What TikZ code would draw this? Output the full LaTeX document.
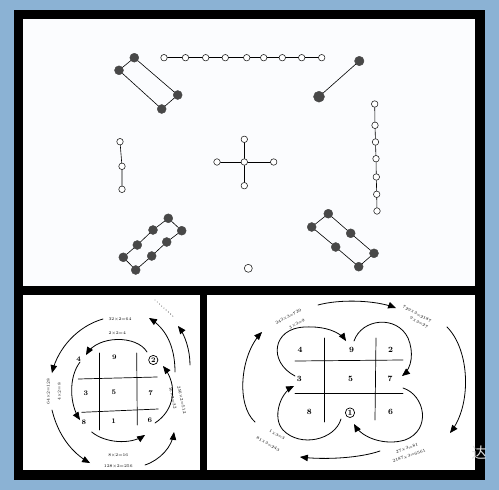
\documentclass[tikz,border=0pt]{standalone}
\usepackage{amssymb,amsmath}
\usepackage{fontspec}
\newfontfamily\cjkfont{Noto Sans CJK SC}
\usetikzlibrary{arrows}
\usetikzlibrary{shapes.geometric}
\definecolor{framebl}{RGB}{139,178,212}
\definecolor{dotgray}{RGB}{72,72,72}
\definecolor{paper}{RGB}{251,252,254}
\tikzset{odot/.style={circle,draw=black!85,fill=white,line width=0.6pt,inner sep=0pt,minimum size=6.5pt},
  fdot/.style={circle,draw=dotgray,fill=dotgray,inner sep=0pt,minimum size=9pt},
  num/.style={font=\bfseries\fontsize{7}{8}\selectfont,inner sep=0pt},
  sumtext/.style={font=\fontsize{4.2}{5}\selectfont,inner sep=0pt},
  arc/.style={->,line width=0.8pt}}
\begin{document}
\begin{tikzpicture}[line cap=round,line join=round,>=triangle 45,x=1pt,y=-1pt]
  \useasboundingbox (0,0) rectangle (499,490);
  % frames
  \fill[framebl] (0,0) rectangle (499,490);
  \fill[black] (14,10) rectangle (485,480);
  \fill[paper] (23,19) rectangle (475,286);
  \fill[white] (23,295) rectangle (200,470);
  \fill[white] (207,295) rectangle (475,470);
  % top panel: the dot figures
  \foreach \i/\xx in {1/164,2/185.5,3/205.7,4/225.3,5/246.7,6/263.7,7/282.3,8/301.7,9/321.7}
    \node[odot] (t\i) at (\xx,57.7) {};
  \foreach \i [count=\j from 2] in {1,...,8}
    \draw[line width=0.6pt] (t\i) -- (t\j);
  \foreach \i/\xx/\yy in {1/374.7/104,2/375/125.3,3/375.5/142,4/376/158.7,5/376.3/177,6/376.7/194.3,7/377/211}
    \node[odot] (r\i) at (\xx,\yy) {};
  \foreach \i [count=\j from 2] in {1,...,6}
    \draw[line width=0.6pt] (r\i) -- (r\j);
  \node[odot] (l1) at (120,141.7) {};
  \node[odot] (l2) at (122,166.3) {};
  \node[odot] (l3) at (122,189.3) {};
  \draw[line width=0.6pt] (l1) -- (l2) -- (l3);
  \node[odot] (c0) at (244.3,162) {};
  \node[odot] (c1) at (244.3,139.3) {};
  \node[odot] (c2) at (273.7,162) {};
  \node[odot] (c3) at (244.3,185.7) {};
  \node[odot] (c4) at (217,162) {};
  \foreach \k in {1,...,4}
    \draw[line width=0.6pt] (c0) -- (c\k);
  \node[fdot] (a1) at (134.3,57.7) {};
  \node[fdot] (a2) at (119,70.3) {};
  \node[fdot] (a3) at (161.7,109) {};
  \node[fdot] (a4) at (177.7,95) {};
  \draw[line width=0.6pt] (a1) -- (a2) -- (a3) -- (a4) -- (a1);
  \node[fdot,minimum size=9.5pt] (b1) at (359.3,61) {};
  \node[fdot,minimum size=11pt] (b2) at (319,96.7) {};
  \draw[line width=0.6pt] (b1) -- (b2);
  \foreach \i/\xx/\yy in {1/123.3/257.3,2/137.3/245,3/153/230,4/168.3/218.3,5/181.7/230.7,6/166.7/242,7/151.7/256,8/135.7/270}
    \node[fdot] (d\i) at (\xx,\yy) {};
  \draw[line width=0.6pt] (d1) -- (d2) -- (d3) -- (d4) -- (d5) -- (d6) -- (d7) -- (d8) -- (d1);
  \foreach \i/\xx/\yy in {1/328.3/213.7,2/350.7/233.3,3/374/253.3,4/358.7/266.7,5/335.7/247,6/311.7/227}
    \node[fdot] (e\i) at (\xx,\yy) {};
  \draw[line width=0.6pt] (e1) -- (e2) -- (e3) -- (e4) -- (e5) -- (e6) -- (e1);
  \node[odot,minimum size=8pt] (s) at (248.3,268.3) {};
  % bottom left: powers of 2
  \draw[line width=0.7pt] (99,353) -- (99,430);
  \draw[line width=0.7pt] (136.7,353) -- (137.3,425);
  \draw[line width=0.7pt] (78.3,379) -- (157.3,377);
  \draw[line width=0.7pt] (81.7,412.3) -- (158.3,409);
  \node[num] (p4) at (78.7,359) {4};
  \node[num] (p9) at (114.3,357.7) {9};
  \node[num,circle,draw,line width=0.7pt,inner sep=1pt] (p2) at (153.3,360) {2};
  \node[num] (p3) at (86,393.7) {3};
  \node[num] (p5) at (114,392.7) {5};
  \node[num] (p7) at (150.7,393.3) {7};
  \node[num] (p8) at (84,422.3) {8};
  \node[num] (p1) at (113.7,421.3) {1};
  \node[num] (p6) at (150,420.7) {6};
  \node[sumtext] (q1) at (120,319.7) {32×2=64};
  \node[sumtext] (q2) at (117.3,333) {2×2=4};
  \node[sumtext,rotate=90] (q3) at (48.3,391.7) {64×2=128};
  \node[sumtext,rotate=90] (q4) at (59.3,391.7) {4×2=8};
  \node[sumtext,rotate=-78] (q5) at (172.7,398) {16×2=32};
  \node[sumtext,rotate=-78] (q6) at (181.7,400) {256×2=512};
  \node[sumtext] (q7) at (118.3,455) {8×2=16};
  \node[sumtext] (q8) at (118.3,466.7) {128×2=256};
  \coordinate (la0) at (147,352);   \coordinate (la1) at (86,355);
  \coordinate (lb0) at (80,362);    \coordinate (lb1) at (80,420);
  \coordinate (lc0) at (91.7,432);  \coordinate (lc1) at (145,435);
  \coordinate (ld0) at (155,423);   \coordinate (ld1) at (163,366);
  \coordinate (le0) at (103,319);   \coordinate (le1) at (52,373);
  \coordinate (lf0) at (52,410);    \coordinate (lf1) at (90,463);
  \coordinate (lg0) at (145,465);   \coordinate (lg1) at (174,432);
  \coordinate (lh0) at (175,372);   \coordinate (lh1) at (149,318);
  \coordinate (li0) at (190,365);   \coordinate (li1) at (178,326);
  \draw[arc] (la0) .. controls (137,335) and (98,335) .. (la1);
  \draw[arc] (lb0) .. controls (68,378) and (70,405) .. (lb1);
  \draw[arc] (lc0) .. controls (105,443) and (130,445) .. (lc1);
  \draw[arc] (ld0) .. controls (175,410) and (178,385) .. (ld1);
  \draw[arc] (le0) .. controls (78,326) and (58,348) .. (le1);
  \draw[arc] (lf0) .. controls (58,435) and (72,453) .. (lf1);
  \draw[arc] (lg0) .. controls (160,460) and (172,447) .. (lg1);
  \draw[arc] (lh0) .. controls (175,345) and (165,328) .. (lh1);
  \draw[arc] (li0) .. controls (190,350) and (185,335) .. (li1);
  \coordinate (dt0) at (155,300);   \coordinate (dt1) at (175,318);
  \draw[line width=0.9pt,dash pattern=on 0pt off 3pt] (dt0) -- (dt1);
  % bottom right: powers of 3
  \draw[line width=0.7pt] (324,338) -- (324,422);
  \draw[line width=0.7pt] (376,338) -- (375,420);
  \draw[line width=0.7pt] (295,361) -- (403,360);
  \draw[line width=0.7pt] (295,393.3) -- (403,393.3);
  \node[num,font=\bfseries\fontsize{8}{9}\selectfont] (m4) at (300,350) {4};
  \node[num,font=\bfseries\fontsize{8}{9}\selectfont] (m9) at (351.7,350) {9};
  \node[num,font=\bfseries\fontsize{8}{9}\selectfont] (m2) at (390.7,350) {2};
  \node[num,font=\bfseries\fontsize{8}{9}\selectfont] (m3) at (299.3,379) {3};
  \node[num,font=\bfseries\fontsize{8}{9}\selectfont] (m5) at (350.7,379) {5};
  \node[num,font=\bfseries\fontsize{8}{9}\selectfont] (m7) at (390,379) {7};
  \node[num,font=\bfseries\fontsize{8}{9}\selectfont] (m8) at (309.3,411.7) {8};
  \node[num,font=\bfseries\fontsize{8}{9}\selectfont,ellipse,draw,line width=0.7pt,inner sep=0.8pt] (m1) at (350,412.7) {1};
  \node[num,font=\bfseries\fontsize{8}{9}\selectfont] (m6) at (390.7,411.7) {6};
  \node[sumtext,rotate=28] (w1) at (288.3,316.7) {243×3=729};
  \node[sumtext,rotate=28] (w2) at (297,324) {3×3=9};
  \node[sumtext,rotate=-28] (w3) at (417,314) {729×3=2187};
  \node[sumtext,rotate=-28] (w4) at (419,322.5) {9×3=27};
  \node[sumtext,rotate=18] (w5) at (407,448.3) {27×3=81};
  \node[sumtext,rotate=18] (w6) at (409,456) {2187×3=6561};
  \node[sumtext,rotate=-30] (w7) at (277,435) {1×3=3};
  \node[sumtext,rotate=-30] (w8) at (268,444) {81×3=243};
  \coordinate (ka0) at (295,376);  \coordinate (ka1) at (346,341);
  \coordinate (kb0) at (354,341);  \coordinate (kb1) at (402,376);
  \coordinate (kc0) at (403,388);  \coordinate (kc1) at (354,424);
  \coordinate (kd0) at (341,419);  \coordinate (kd1) at (294,386);
  \coordinate (ke0) at (318,305);  \coordinate (ke1) at (396,308);
  \coordinate (kf0) at (447,327);  \coordinate (kf1) at (450,433);
  \coordinate (kg0) at (380,451);  \coordinate (kg1) at (300,457);
  \coordinate (kh0) at (255,422);  \coordinate (kh1) at (262,332);
  \draw[arc] (ka0) .. controls (268,362) and (272,328) .. (305,327) .. controls (325,326) and (340,332) .. (ka1);
  \draw[arc] (kb0) .. controls (362,318) and (397,315) .. (408,338) .. controls (414,352) and (412,368) .. (kb1);
  \draw[arc] (kc0) .. controls (425,395) and (432,430) .. (405,440) .. controls (385,446) and (362,438) .. (kc1);
  \draw[arc] (kd0) .. controls (335,440) and (300,448) .. (283,430) .. controls (272,418) and (280,393) .. (kd1);
  \draw[arc] (ke0) .. controls (340,299) and (375,300) .. (ke1);
  \draw[arc] (kf0) .. controls (470,350) and (472,405) .. (kf1);
  \draw[arc] (kg0) .. controls (360,458) and (325,460) .. (kg1);
  \draw[arc] (kh0) .. controls (236,405) and (240,355) .. (kh1);
  \node[text=white!75!gray,font=\cjkfont\fontsize{15}{15}\selectfont] (wm) at (479,453) {达};
\end{tikzpicture}
\end{document}
